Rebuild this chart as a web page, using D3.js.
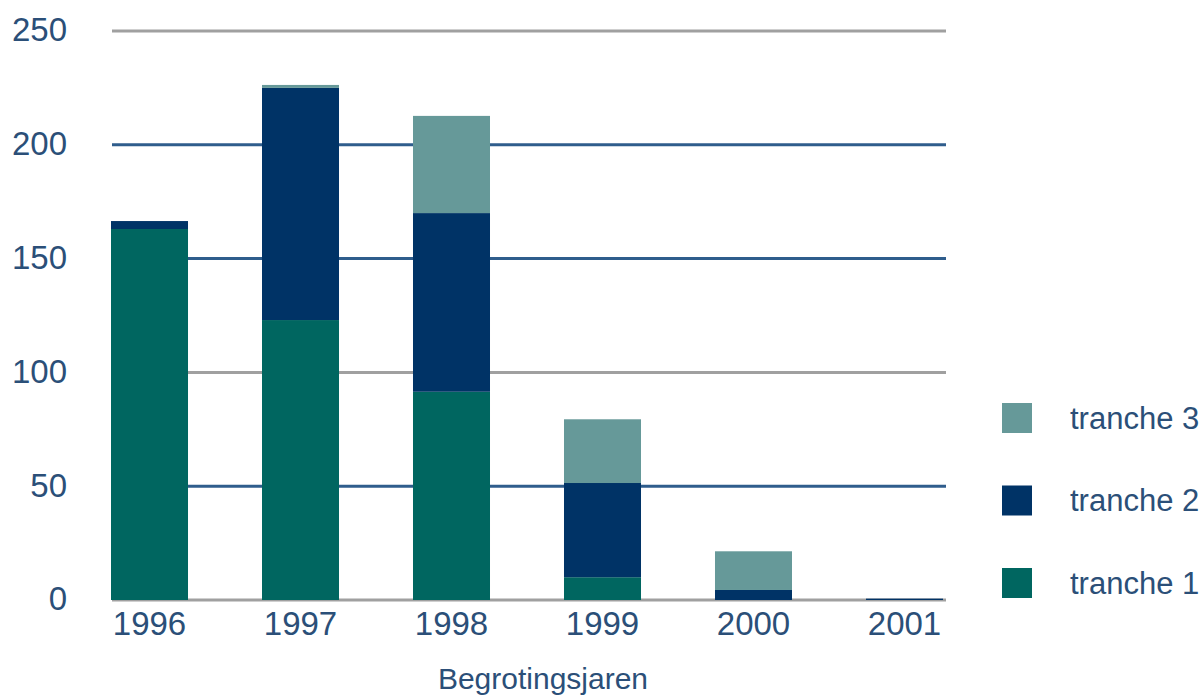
<!DOCTYPE html>
<html><head><meta charset="utf-8">
<script src="https://cdn.jsdelivr.net/npm/d3@7"></script>
<style>body{margin:0;background:#fff;overflow:hidden}</style>
</head><body>
<svg id="c" width="1204" height="695"></svg>
<script>
const years = ["1996","1997","1998","1999","2000","2001"];
const tranche1 = [163, 123, 91.5, 10, 0, 0];
const tranche2 = [3.5, 102, 78.5, 41.4, 4.4, 0.6];
const tranche3 = [0, 1.3, 42.7, 28, 17, 0];
const seriesNames = ["tranche 1","tranche 2","tranche 3"];
const yTicks = [0, 50, 100, 150, 200, 250];
const xTitle = "Begrotingsjaren";

const colors = {"tranche 1":"#006660","tranche 2":"#003366","tranche 3":"#669999"};
const gridColor = {0:"#a0a0a0",50:"#2f5d8c",100:"#a0a0a0",150:"#2f5d8c",200:"#2f5d8c",250:"#a0a0a0"};
const textColor = "#2b4f78";
const font = "'Liberation Sans', sans-serif";

const svg = d3.select("#c");
const x = d3.scaleBand().domain(years).range([111, 943]).paddingInner(0.49).paddingOuter(0);
const y = d3.scaleLinear().domain([0, 250]).range([600, 31]);

const rows = years.map((yr,i)=>({year:yr,"tranche 1":tranche1[i],"tranche 2":tranche2[i],"tranche 3":tranche3[i]}));
const stack = d3.stack().keys(seriesNames)(rows);

// gridlines
svg.append("g").selectAll("line").data(yTicks).join("line")
  .attr("x1",112).attr("x2",946)
  .attr("y1",d=>y(d)).attr("y2",d=>y(d))
  .attr("stroke",d=>gridColor[d]).attr("stroke-width",3);

// bars
svg.append("g").selectAll("g").data(stack).join("g")
  .attr("fill",d=>colors[d.key])
  .selectAll("rect").data(d=>d).join("rect")
  .attr("x",d=>x(d.data.year))
  .attr("width",x.bandwidth())
  .attr("y",d=>y(d[1]))
  .attr("height",d=>Math.max(0,y(d[0])-y(d[1])));

// y axis labels
const yAxis = d3.axisLeft(y).tickValues(yTicks).tickSize(0).tickPadding(0);
const ga = svg.append("g").attr("transform","translate(67,0)").call(yAxis);
ga.select(".domain").remove();
ga.selectAll("text").attr("font-family",font).attr("font-size",33).attr("fill",textColor).attr("dy","0.3em");

// x axis labels
const xAxis = d3.axisBottom(x).tickSize(0).tickPadding(0);
const gx = svg.append("g").attr("transform","translate(0,611)").call(xAxis);
gx.select(".domain").remove();
gx.selectAll("text").attr("font-family",font).attr("font-size",33).attr("fill",textColor).attr("dy","0.72em");

svg.append("text").attr("x",543).attr("y",689).attr("text-anchor","middle")
  .attr("font-family",font).attr("font-size",30).attr("fill",textColor).text(xTitle);

// legend
const legendOrder = ["tranche 3","tranche 2","tranche 1"];
const lg = svg.append("g").selectAll("g").data(legendOrder).join("g")
  .attr("transform",(d,i)=>`translate(1002,${403+i*82.5})`);
lg.append("rect").attr("width",30).attr("height",30).attr("fill",d=>colors[d]);
lg.append("text").attr("x",68).attr("y",15).attr("dy","0.35em")
  .attr("font-family",font).attr("font-size",31).attr("fill",textColor).text(d=>d);
</script>
</body></html>
